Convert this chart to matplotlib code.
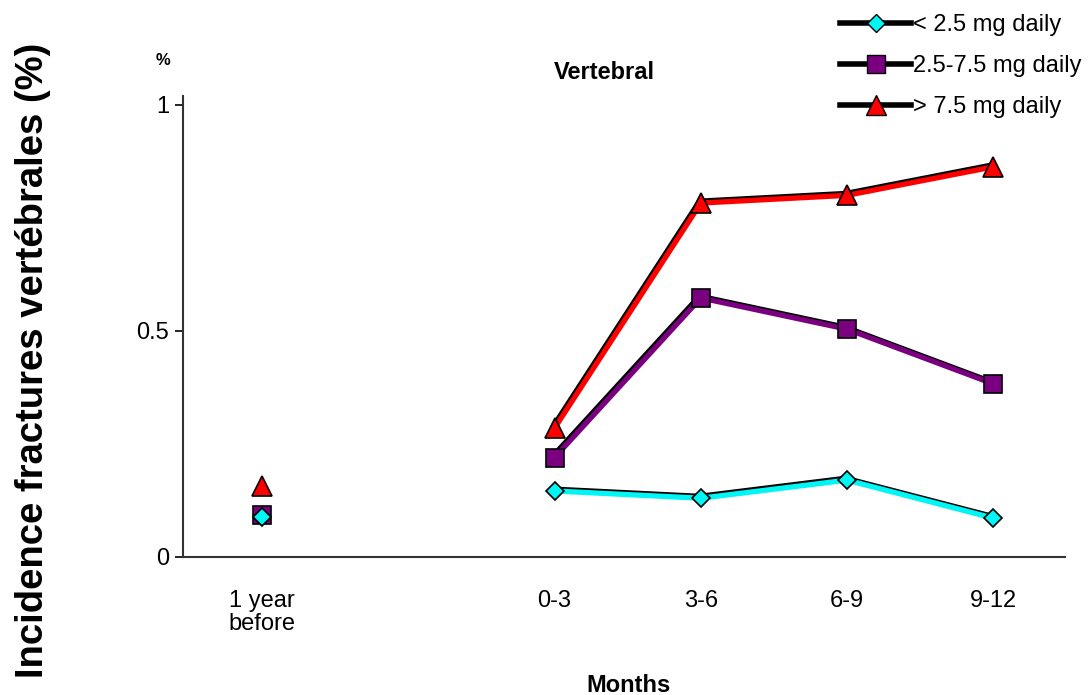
import matplotlib.pyplot as plt
import matplotlib.transforms as mtransforms
from matplotlib.lines import Line2D

plt.rcParams['font.family'] = ['Liberation Sans', 'DejaVu Sans']

# categorie e posizioni (il "1 year before" sta staccato)
categories = ["1 year\nbefore", "0-3", "3-6", "6-9", "9-12"]
positions = [0, 2, 3, 4, 5]

low_dose = [0.088, 0.146, 0.130, 0.170, 0.086]     # < 2.5 mg
mid_dose = [0.093, 0.220, 0.573, 0.504, 0.383]     # 2.5-7.5 mg
high_dose = [0.157, 0.285, 0.783, 0.800, 0.863]    # > 7.5 mg

series = [
    ("< 2.5 mg daily", low_dose, "#00f5f5", "D", 9, 5),
    ("2.5-7.5 mg daily", mid_dose, "#7a0080", "s", 13, 4),
    ("> 7.5 mg daily", high_dose, "#ff0000", "^", 14, 3),
]

fig = plt.figure(figsize=(10.9, 6.95), dpi=100)
ax = fig.add_axes([0.168, 0.1986, 0.809, 0.6634])

shadow = mtransforms.offset_copy(ax.transData, fig=fig, x=-1.0, y=1.5, units='points')

for label, vals, color, mk, ms, z in series:
    # punto isolato "1 year before"
    ax.plot(positions[0], vals[0], linestyle='none', marker=mk, markersize=ms,
            markerfacecolor=color, markeredgecolor='black', markeredgewidth=1.2, zorder=z)
    # ombra nera della linea
    ax.plot(positions[1:], vals[1:], color='black', linewidth=3.5, transform=shadow, zorder=2)
    ax.plot(positions[1:], vals[1:], color=color, linewidth=3.8, marker=mk, markersize=ms,
            markerfacecolor=color, markeredgecolor='black', markeredgewidth=1.2, zorder=3)

ax.set_xlim(-0.54, 5.49)
ax.set_ylim(0, 1.02)
ax.set_yticks([0, 0.5, 1])
ax.set_yticklabels(["0", "0.5", "1"], fontsize=17)
ax.set_xticks(positions)
ax.set_xticklabels(categories, fontsize=17, linespacing=1.05)
ax.tick_params(axis='x', length=0, pad=24)
ax.tick_params(axis='y', length=6, width=1.2, direction='out', pad=4)
ax.spines['top'].set_visible(False)
ax.spines['right'].set_visible(False)
for s in ['left', 'bottom']:
    ax.spines[s].set_linewidth(1.5)
    ax.spines[s].set_color('#333333')

fig.text(0.150, 0.913, "%", fontsize=12, fontweight='bold', ha='center', va='center')
fig.text(0.554, 0.896, "Vertebral", fontsize=17, fontweight='bold', ha='center', va='center')
fig.text(0.577, 0.014, "Months", fontsize=17, fontweight='bold', ha='center', va='center')
fig.text(0.030, 0.482, "Incidence fractures vertébrales (%)", fontsize=27.5, fontweight='bold',
         rotation=90, ha='center', va='center')

handles = [Line2D([], [], color='black', linewidth=4, marker=mk, markersize=ms,
                  markerfacecolor=color, markeredgecolor='black')
           for label, vals, color, mk, ms, z in series]
fig.legend(handles, [s[0] for s in series], loc='upper right', bbox_to_anchor=(1.012, 1.01),
           frameon=False, fontsize=17, handlelength=3.0, handletextpad=0.1, labelspacing=0.8)

fig.savefig("out.png", dpi=100)
